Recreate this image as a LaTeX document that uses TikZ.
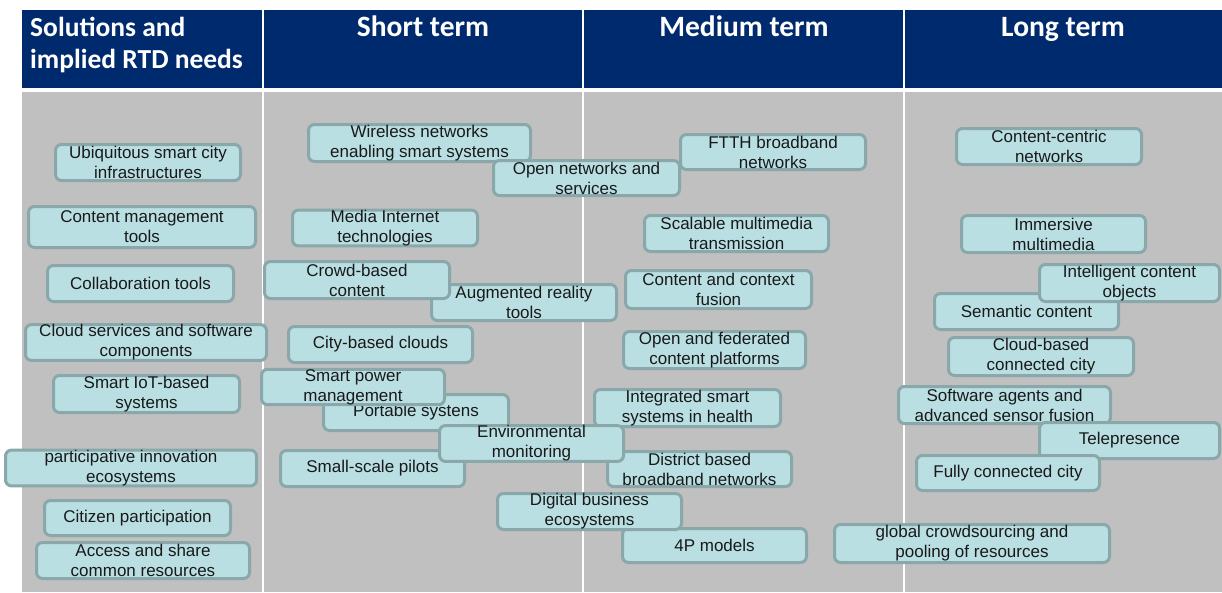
\documentclass[tikz,border=0pt]{standalone}
\usepackage{fontspec}
\newfontfamily\bxfont{Liberation Sans}
\newfontfamily\hdfont{Carlito}
\definecolor{navy}{RGB}{0,42,110}
\definecolor{panelgray}{RGB}{192,192,192}
\definecolor{boxfill}{RGB}{185,223,227}
\definecolor{boxline}{RGB}{138,168,170}
\newcommand{\bxnode}[6]{%
  \node[bx, minimum width={(#4-#2-3)*1pt}, minimum height={(#5-#3-3)*1pt}] (#1) at ({(#2+#4)/2},{(#3+#5)/2}) {#6};}
\begin{document}
\begin{tikzpicture}[x=1pt,y=-1pt,
  bx/.style={draw=boxline, line width=3pt, fill=boxfill, rounded corners=6pt, inner sep=0pt, align=center,
     font=\bxfont\fontsize{17}{20}\selectfont, text=black!90},
  hd/.style={text=white, inner sep=0pt, font=\hdfont\bfseries\fontsize{29.5}{32}\selectfont},
  hd1/.style={text=white, inner sep=0pt, font=\hdfont\bfseries\fontsize{27.5}{32}\selectfont},
  divider/.style={draw=white, line width=2pt}]
\useasboundingbox (0,0) rectangle (1222,592);
\fill[white] (0,0) rectangle (1222,592);
% header and panel
\fill[navy] (22,10) rectangle (1222,88);
\fill[panelgray] (22,92) rectangle (1222,592);
\coordinate (d1t) at (263,10); \coordinate (d1b) at (263,592);
\coordinate (d2t) at (583,10); \coordinate (d2b) at (583,592);
\coordinate (d3t) at (904,10); \coordinate (d3b) at (904,592);
\draw[divider] (d1t) -- (d1b);
\draw[divider] (d2t) -- (d2b);
\draw[divider] (d3t) -- (d3b);
\node[hd1, anchor=base west] (h1a) at (30,36) {Solutions and};
\node[hd1, anchor=base west] (h1b) at (30,68) {implied RTD needs};
\node[hd, anchor=base] (h2) at (423,36) {Short term};
\node[hd, anchor=base] (h3) at (744,36) {Medium term};
\node[hd, anchor=base] (h4) at (1063,36) {Long term};
% column 1
\bxnode{u1}{54}{143}{242}{182}{Ubiquitous smart city\\infrastructures}
\bxnode{u2}{27}{205}{257}{249}{Content management\\tools}
\bxnode{u3}{46}{264}{235}{303}{Collaboration tools}
\bxnode{u4}{24}{325}{268}{360}{Cloud services and software\\components}
\bxnode{u5}{52}{374}{241}{414}{Smart IoT-based\\systems}
\bxnode{u6}{4}{449}{258}{487}{participative innovation\\ecosystems}
\bxnode{u7}{43}{499}{232}{537}{Citizen participation}
\bxnode{u8}{35}{541}{251}{580}{Access and share\\common resources}
% short / medium
\bxnode{s1}{307}{123}{532}{163}{Wireless networks\\enabling smart systems}
\bxnode{s2}{492}{159}{681}{197}{Open networks and\\services}
\bxnode{m1}{679}{133}{867}{171}{FTTH broadband\\networks}
\bxnode{s3}{291}{209}{479}{247}{Media Internet\\technologies}
\bxnode{s5}{430}{283}{618}{322}{Augmented reality\\tools}
\bxnode{s4}{263}{260}{451}{300}{Crowd-based\\content}
\bxnode{s6}{287}{325}{474}{364}{City-based clouds}
\bxnode{s8}{322}{393}{510}{432}{Portable systens}
\bxnode{s7}{260}{368}{446}{406}{Smart power\\management}
\bxnode{s9}{279}{449}{466}{488}{Small-scale pilots}
\bxnode{m5}{593}{388}{782}{428}{Integrated smart\\systems in health}
\bxnode{m6}{606}{450}{793}{488}{District based\\broadband networks}
\bxnode{s10}{438}{425}{625}{462}{Environmental\\monitoring}
\bxnode{m7}{621}{527}{808}{564}{4P models}
\bxnode{s11}{496}{492}{683}{531}{Digital business\\ecosystems}
\bxnode{m2}{643}{214}{830}{253}{Scalable multimedia\\transmission}
\bxnode{m3}{624}{269}{813}{310}{Content and context\\fusion}
\bxnode{m4}{622}{330}{807}{370}{Open and federated\\content platforms}
% long term
\bxnode{l1}{955}{127}{1143}{166}{Content-centric\\networks}
\bxnode{l2}{960}{214}{1147}{254}{Immersive\\multimedia}
\bxnode{l4}{933}{292}{1120}{331}{Semantic content}
\bxnode{l3}{1038}{263}{1221}{303}{Intelligent content\\objects}
\bxnode{l5}{947}{336}{1135}{377}{Cloud-based\\connected city}
\bxnode{l6}{897}{385}{1112}{425}{Software agents and\\advanced sensor fusion}
\bxnode{l7}{1038}{421}{1221}{460}{Telepresence}
\bxnode{l8}{915}{454}{1101}{492}{Fully connected city}
\bxnode{l9}{833}{523}{1111}{564}{global crowdsourcing and\\pooling of resources}
\end{tikzpicture}
\end{document}
